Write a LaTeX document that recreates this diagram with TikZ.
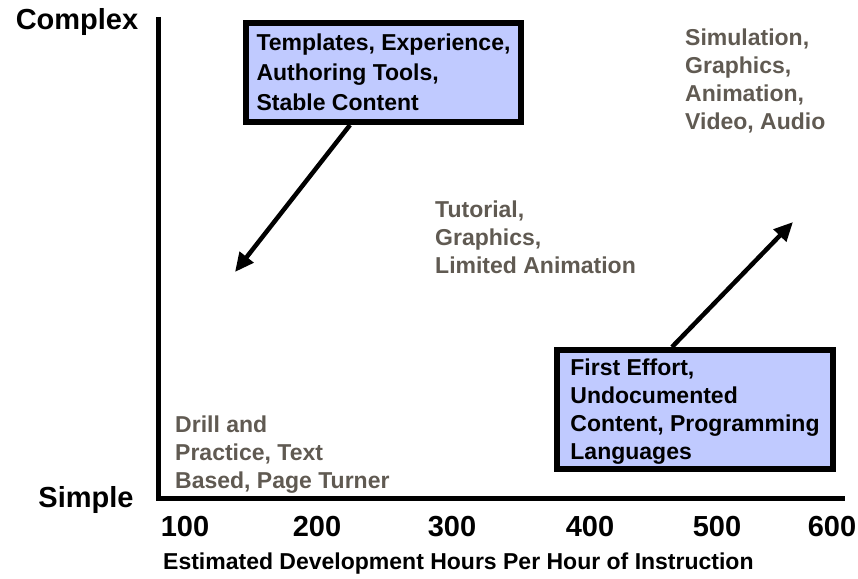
\documentclass[tikz,border=0pt]{standalone}
\usepackage{fontspec}
\setmainfont{Liberation Sans}
\usetikzlibrary{arrows.meta,positioning}
\definecolor{boxblue}{RGB}{192,202,255}
\definecolor{labelgray}{RGB}{96,90,82}

\tikzset{
  axislabel/.style={font=\fontsize{29}{34}\selectfont\bfseries},
  smalltext/.style={font=\fontsize{23}{28}\selectfont\bfseries, align=left, inner sep=0pt},
  graytext/.style={smalltext, text=labelgray, anchor=north west},
  notebox/.style={smalltext, draw, line width=6pt, fill=boxblue, text depth=0pt},
  bigarrow/.style={line width=4.5pt, -{Triangle[length=19pt,width=17pt]}}
}

\begin{document}
\begin{tikzpicture}[x=1pt,y=-1pt]
  \useasboundingbox (0,0) rectangle (858,578);

  % axes
  \coordinate (top) at (158,17);
  \coordinate (origin) at (158,498);
  \coordinate (right) at (845,498);
  \draw[line width=5pt] (top) -- (origin) -- (right);
  \node[axislabel] (complex) at (77,22) {Complex};
  \node[axislabel] (simple) at (86,500) {Simple};
  \foreach \x/\v in {185/100,317/200,452/300,590/400,717/500,832/600}
    \node[axislabel] (tick\v) at (\x,527) {\v};
  \node[smalltext, anchor=west] (xtitle) at (163,564) {Estimated Development Hours Per Hour of Instruction};

  % boxes
  \node[notebox, font=\fontsize{23}{30}\selectfont\bfseries, minimum width=275pt, minimum height=99pt] (reuse) at (383.5,72.5) {Templates, Experience,\\Authoring Tools,\\Stable Content};
  \node[notebox, minimum width=276pt, minimum height=119pt] (first) at (695,409.5) {First Effort,\\Undocumented\\Content, Programming\\Languages};

  % media labels
  \node[graytext] (sim) at (685,29) {Simulation,\\Graphics,\\Animation,\\Video, Audio};
  \node[graytext] (tut) at (435,201) {Tutorial,\\Graphics,\\Limited Animation};
  \node[graytext] (drill) at (175,416) {Drill and\\Practice, Text\\Based, Page Turner};

  % arrows
  \coordinate (low) at (235,272);
  \coordinate (high) at (793,222);
  \draw[bigarrow] ([xshift=-33.5pt]reuse.south) -- (low);
  \draw[bigarrow] ([xshift=-23pt]first.north) -- (high);
\end{tikzpicture}
\end{document}
